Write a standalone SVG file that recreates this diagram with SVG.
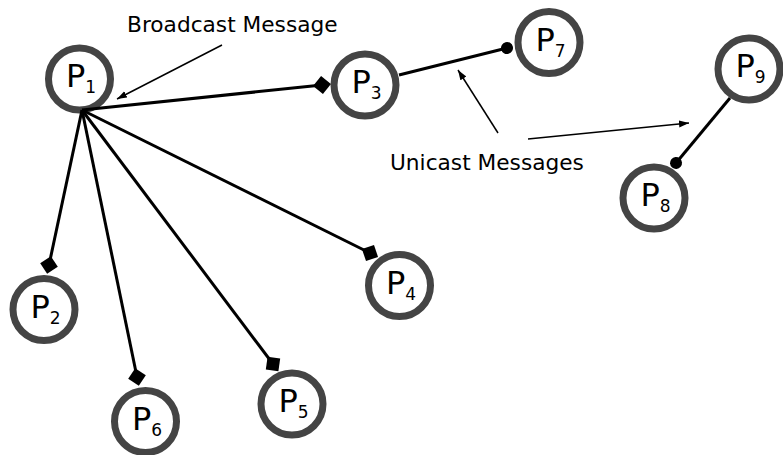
<svg xmlns="http://www.w3.org/2000/svg" width="783" height="455" viewBox="0 0 783 455">
<defs>
<style>
.node circle{fill:#fff;stroke:#444;stroke-width:7}
.node text{font-family:"DejaVu Sans",sans-serif;font-size:32px;fill:#000;text-anchor:middle}
.node tspan{font-size:17px}
.edge{stroke:#000;stroke-width:3;fill:none}
.note{stroke:#000;stroke-width:1.5;fill:none;marker-end:url(#arrow)}
.label{font-family:"DejaVu Sans",sans-serif;font-size:21.7px;fill:#000}
</style>
<marker id="diamond" markerUnits="userSpaceOnUse" markerWidth="20" markerHeight="20" refX="0" refY="0" viewBox="-10 -10 20 20" orient="auto">
<path d="M-9,0 L0,-9 L9,0 L0,9 Z" fill="#000"/>
</marker>
<marker id="dot" markerUnits="userSpaceOnUse" markerWidth="14" markerHeight="14" refX="0" refY="0" viewBox="-7 -7 14 14" orient="auto">
<circle cx="0" cy="0" r="6" fill="#000"/>
</marker>
<marker id="arrow" markerUnits="userSpaceOnUse" markerWidth="11" markerHeight="8" refX="10" refY="3.5" viewBox="0 0 11 8" orient="auto">
<path d="M0,0 L10,3.5 L0,7 Z" fill="#000"/>
</marker>
</defs>
<rect width="783" height="455" fill="#fff"/>
<g id="nodes">
<g id="P1" class="node"><circle cx="79.5" cy="79" r="31"/><text x="81" y="87">P<tspan dy="6">1</tspan></text></g>
<g id="P2" class="node"><circle cx="44" cy="309.5" r="31"/><text x="45.5" y="317.5">P<tspan dy="6">2</tspan></text></g>
<g id="P3" class="node"><circle cx="365" cy="85" r="31"/><text x="366.5" y="93">P<tspan dy="6">3</tspan></text></g>
<g id="P4" class="node"><circle cx="399.5" cy="285.5" r="31"/><text x="401" y="293.5">P<tspan dy="6">4</tspan></text></g>
<g id="P5" class="node"><circle cx="292" cy="404" r="31"/><text x="293.5" y="412">P<tspan dy="6">5</tspan></text></g>
<g id="P6" class="node"><circle cx="145.5" cy="421.5" r="31"/><text x="147" y="429.5">P<tspan dy="6">6</tspan></text></g>
<g id="P7" class="node"><circle cx="549" cy="42.5" r="31"/><text x="550.5" y="50.5">P<tspan dy="6">7</tspan></text></g>
<g id="P8" class="node"><circle cx="654" cy="198" r="31"/><text x="655.5" y="206">P<tspan dy="6">8</tspan></text></g>
<g id="P9" class="node"><circle cx="749" cy="69" r="31"/><text x="750.5" y="77">P<tspan dy="6">9</tspan></text></g>
</g>
<g id="connectors">
<line class="edge" x1="82" y1="110" x2="49" y2="265" marker-end="url(#diamond)"/>
<line class="edge" x1="82" y1="110" x2="322" y2="85" marker-end="url(#diamond)"/>
<line class="edge" x1="82" y1="110" x2="370" y2="253" marker-end="url(#diamond)"/>
<line class="edge" x1="82" y1="110" x2="273" y2="364" marker-end="url(#diamond)"/>
<line class="edge" x1="82" y1="110" x2="137" y2="377" marker-end="url(#diamond)"/>
<line class="edge" x1="399" y1="75" x2="507" y2="48" marker-end="url(#dot)"/>
<line class="edge" x1="730" y1="98" x2="676" y2="163" marker-end="url(#dot)"/>
<line class="note" x1="222" y1="45" x2="117" y2="99"/>
<line class="note" x1="498" y1="133" x2="458" y2="70"/>
<line class="note" x1="528" y1="139" x2="689" y2="123"/>
</g>
<text class="label" x="127" y="32">Broadcast Message</text>
<text class="label" x="390" y="170">Unicast Messages</text>
</svg>
